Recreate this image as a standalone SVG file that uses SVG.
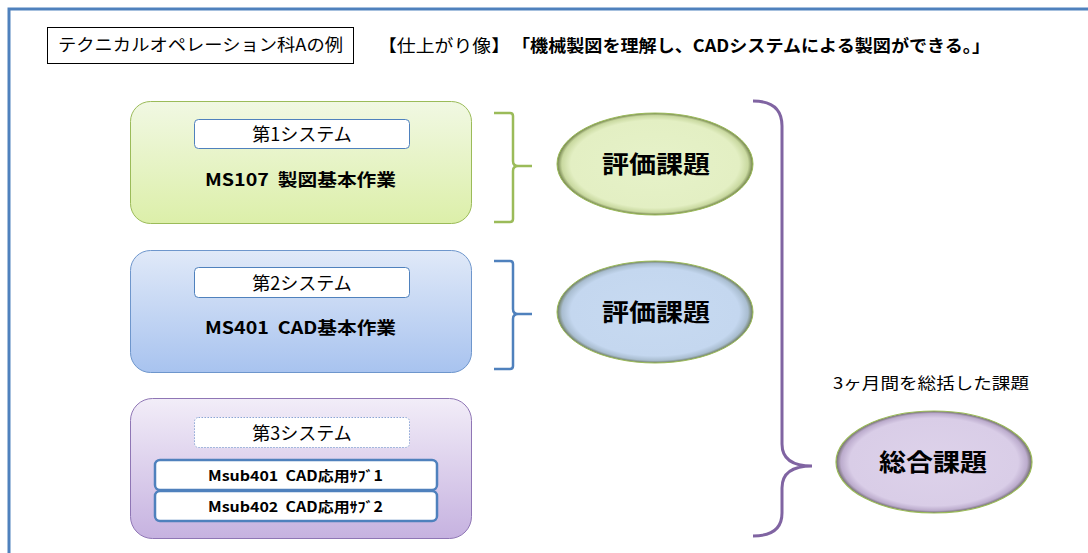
<svg xmlns="http://www.w3.org/2000/svg" width="1088" height="553" viewBox="0 0 1088 553">
<defs>
<style>
text{font-family:"Noto Sans CJK JP","Liberation Sans",sans-serif;fill:#000}
.t{font-size:17px}
.b{font-weight:bold}
.lab{font-size:18px;text-anchor:middle}
.ev{font-size:24px;font-weight:bold;text-anchor:middle}
.inner{fill:#fff;stroke:#4f81bd;stroke-width:1}
.sub{fill:#fff;stroke:#4f81bd;stroke-width:2.5}
</style>
<linearGradient id="gG" x1="0" y1="0" x2="0" y2="1"><stop offset="0" stop-color="#f1f8e3"/><stop offset="1" stop-color="#dcefa9"/></linearGradient>
<linearGradient id="gB" x1="0" y1="0" x2="0" y2="1"><stop offset="0" stop-color="#e0e9f8"/><stop offset="1" stop-color="#a8c3ef"/></linearGradient>
<linearGradient id="gP" x1="0" y1="0" x2="0" y2="1"><stop offset="0" stop-color="#f2edf8"/><stop offset="1" stop-color="#c6b2e0"/></linearGradient>
<radialGradient id="eG" cx="0.5" cy="0.5" r="0.5"><stop offset="0" stop-color="#e6f2c9"/><stop offset="0.86" stop-color="#e3efc3"/><stop offset="0.95" stop-color="#c9d9a0"/><stop offset="1" stop-color="#6f7f48"/></radialGradient>
<radialGradient id="eB" cx="0.5" cy="0.5" r="0.5"><stop offset="0" stop-color="#c7daf1"/><stop offset="0.86" stop-color="#c4d7ef"/><stop offset="0.95" stop-color="#a9bdd0"/><stop offset="1" stop-color="#6c7a5a"/></radialGradient>
<radialGradient id="eP" cx="0.5" cy="0.5" r="0.5"><stop offset="0" stop-color="#ddd2ea"/><stop offset="0.86" stop-color="#d9cde7"/><stop offset="0.95" stop-color="#bcaccd"/><stop offset="1" stop-color="#6e6a6a"/></radialGradient>
</defs>
<rect width="1088" height="553" fill="#fff"/>
<path d="M9,553 V9 H1088" fill="none" stroke="#4f81bd" stroke-width="3"/>

<g id="title">
<rect x="47.5" y="27.5" width="306" height="36" fill="#fff" stroke="#000" stroke-width="1"/>
<text class="t" x="58" y="51" textLength="285" lengthAdjust="spacingAndGlyphs">テクニカルオペレーション科Aの例</text>
</g>
<g id="header">
<text class="t" x="378" y="52" textLength="132" lengthAdjust="spacingAndGlyphs">【仕上がり像】</text>
<text class="t b" x="512" y="52" textLength="478" lengthAdjust="spacingAndGlyphs">「機械製図を理解し、CADシステムによる製図ができる。」</text>
</g>

<g id="system1">
<rect x="130.5" y="101.5" width="341" height="122" rx="20" fill="url(#gG)" stroke="#9bbb59" stroke-width="1"/>
<rect class="inner" x="194.5" y="119.5" width="215" height="29" rx="4"/>
<text class="lab" x="302" y="140.5">第1システム</text>
<text class="t b" x="205" y="186" textLength="191" lengthAdjust="spacingAndGlyphs" xml:space="preserve">MS107  製図基本作業</text>
</g>
<g id="system2">
<rect x="130.5" y="250.5" width="341" height="122" rx="20" fill="url(#gB)" stroke="#6e96cc" stroke-width="1"/>
<rect class="inner" x="194.5" y="267.5" width="215" height="30" rx="4"/>
<text class="lab" x="302" y="289.5">第2システム</text>
<text class="t b" x="205" y="334" textLength="191" lengthAdjust="spacingAndGlyphs" xml:space="preserve">MS401  CAD基本作業</text>
</g>
<g id="system3">
<rect x="130.5" y="398.5" width="341" height="140" rx="22" fill="url(#gP)" stroke="#8f76b5" stroke-width="1"/>
<rect x="194.5" y="417.5" width="215" height="30" rx="4" fill="#fff" stroke="#8aa5d4" stroke-width="1" stroke-dasharray="1.5 1.5"/>
<text class="lab" x="302" y="440">第3システム</text>
<g id="msub401">
<rect class="sub" x="155" y="460" width="282" height="30" rx="5"/>
<text class="b" x="208" y="481" font-size="14" textLength="175" lengthAdjust="spacingAndGlyphs" xml:space="preserve">Msub401  CAD応用ｻﾌﾞ1</text>
</g>
<g id="msub402">
<rect class="sub" x="155" y="491" width="282" height="30" rx="5"/>
<text class="b" x="208" y="512" font-size="14" textLength="175" lengthAdjust="spacingAndGlyphs" xml:space="preserve">Msub402  CAD応用ｻﾌﾞ2</text>
</g>
</g>

<g id="connectors" fill="none" stroke-width="2.5">
<path d="M494,113 H510 Q513,113 513,116 V161 Q513,166 518,166 H532 M518,166 Q513,166 513,171 V219 Q513,222 510,222 H494" stroke="#9bbb59"/>
<path d="M494,261 H510 Q513,261 513,264 V309 Q513,314 518,314 H532 M518,314 Q513,314 513,319 V366 Q513,369 510,369 H494" stroke="#4f81bd"/>
<path d="M753,101 Q782,101 782,126 V444 Q782,466 812,466 Q782,466 782,488 V513 Q782,536 753,536" stroke="#8064a2" stroke-width="3"/>
</g>

<g id="eval1">
<ellipse cx="655" cy="164" rx="98" ry="51" fill="url(#eG)" stroke="#9bbb59" stroke-width="1"/>
<text class="ev" x="656" y="173" textLength="108" lengthAdjust="spacingAndGlyphs">評価課題</text>
</g>
<g id="eval2">
<ellipse cx="655" cy="312" rx="98" ry="51" fill="url(#eB)" stroke="#9bbb59" stroke-width="1"/>
<text class="ev" x="656" y="321" textLength="108" lengthAdjust="spacingAndGlyphs">評価課題</text>
</g>
<g id="summary">
<text x="931" y="389" font-size="16" text-anchor="middle" textLength="196" lengthAdjust="spacingAndGlyphs">3ヶ月間を総括した課題</text>
<ellipse cx="934" cy="462" rx="98" ry="51" fill="url(#eP)" stroke="#9bbb59" stroke-width="1.2"/>
<text class="ev" x="933" y="471" textLength="108" lengthAdjust="spacingAndGlyphs">総合課題</text>
</g>
</svg>
